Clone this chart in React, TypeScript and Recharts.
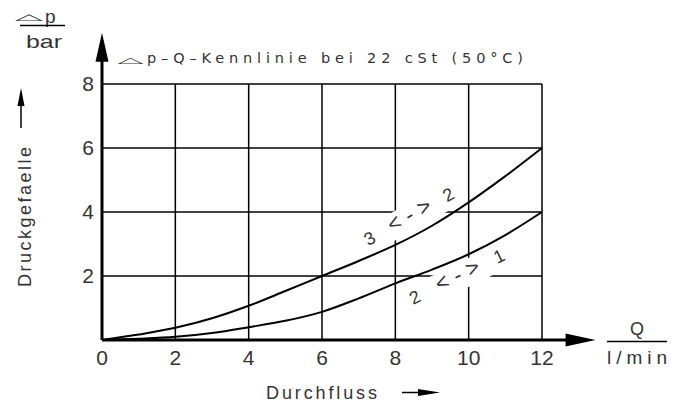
import React from 'react';
import { LineChart, Line, XAxis, YAxis, CartesianGrid, ReferenceLine, ReferenceDot } from 'recharts';

const flow = [0, 1, 2, 3, 4, 5, 6, 7, 8, 9, 10, 11, 12];
const dp32 = [0, 0.17, 0.38, 0.68, 1.07, 1.53, 2.0, 2.47, 2.97, 3.57, 4.3, 5.12, 6.0];
const dp21 = [0, 0.04, 0.1, 0.22, 0.4, 0.6, 0.88, 1.3, 1.77, 2.2, 2.68, 3.28, 4.0];
const xTicks = [0, 2, 4, 6, 8, 10, 12];
const yTicks = [2, 4, 6, 8];
const curveLabels = [
  { x: 8.36, y: 3.88, from: '3', to: '2', angle: -29, len: 102 },
  { x: 9.67, y: 2.0, from: '2', to: '1', angle: -26, len: 106 },
];

const data = flow.map((q, i) => ({ q, a: dp32[i], b: dp21[i] }));

const FONT = '"Liberation Sans", Arial, sans-serif';
const INK = '#333';

const LabelShape = (props: any) => {
  const { cx, cy, from, to, angle, len } = props;
  const h = len / 2 - 6;
  return (
    <g transform={`translate(${cx},${cy}) rotate(${angle})`}>
      <rect x={-len / 2 - 2} y={-11} width={len + 4} height={26} fill="#fff" />
      <text y={7} fontSize={18} fontFamily={FONT} fill={INK} textAnchor="middle">
        <tspan x={-h}>{from}</tspan>
        <tspan x={-16} fontSize={22}>{'<'}</tspan>
        <tspan x={1} fontSize={22}>{'-'}</tspan>
        <tspan x={18} fontSize={22}>{'>'}</tspan>
        <tspan x={h}>{to}</tspan>
      </text>
    </g>
  );
};

const UpArrow = (props: any) => {
  const { cx, cy } = props;
  return <polygon points={`${cx},${cy} ${cx - 6.5},${cy + 29} ${cx + 6.5},${cy + 29}`} fill="#000" />;
};
const RightArrow = (props: any) => {
  const { cx, cy } = props;
  return <polygon points={`${cx},${cy} ${cx - 30},${cy - 6.5} ${cx - 30},${cy + 6.5}`} fill="#000" />;
};

export default function App() {
  return (
    <div style={{ position: 'absolute', left: 0, top: 0, width: 681, height: 405, background: '#fff' }}>
      <LineChart width={681} height={405} data={data} margin={{ top: 84, right: 139, left: 72, bottom: 35 }}>
        <CartesianGrid stroke="#000" strokeWidth={1.5} strokeOpacity={1} />
        <XAxis
          type="number"
          dataKey="q"
          domain={[0, 12]}
          ticks={xTicks}
          axisLine={false}
          tickLine={false}
          height={30}
          tickMargin={4}
          tick={{ fontSize: 21, fill: INK, fontFamily: FONT }}
        />
        <YAxis
          type="number"
          domain={[0, 8]}
          ticks={yTicks}
          axisLine={false}
          tickLine={false}
          width={30}
          tickMargin={2}
          tick={{ fontSize: 21, fill: INK, fontFamily: FONT }}
        />
        {curveLabels.map((l, i) => (
          <ReferenceDot
            key={i}
            x={l.x}
            y={l.y}
            ifOverflow="visible"
            zIndex={100}
            shape={(p: any) => <LabelShape {...p} from={l.from} to={l.to} angle={l.angle} len={l.len} />}
          />
        ))}
        <ReferenceLine segment={[{ x: 0, y: 0 }, { x: 0, y: 9.0 }]} stroke="#000" strokeWidth={3} ifOverflow="visible" />
        <ReferenceLine segment={[{ x: 0, y: 0 }, { x: 12.8, y: 0 }]} stroke="#000" strokeWidth={3} ifOverflow="visible" />
        <ReferenceDot x={0} y={9.6} ifOverflow="visible" shape={(p: any) => <UpArrow {...p} />} />
        <ReferenceDot x={13.46} y={0} ifOverflow="visible" shape={(p: any) => <RightArrow {...p} />} />
        <Line type="monotone" dataKey="a" stroke="#000" strokeWidth={2} dot={false} isAnimationActive={false} />
        <Line type="monotone" dataKey="b" stroke="#000" strokeWidth={2} dot={false} isAnimationActive={false} />
      </LineChart>
      <svg
        width={681}
        height={405}
        style={{ position: 'absolute', left: 0, top: 0, pointerEvents: 'none' }}
        fontFamily={FONT}
        fill={INK}
      >
        <text x={29} y={19.5} fontSize={27} textAnchor="middle" transform="translate(29,19.5) scale(1.35,0.33) translate(-29,-19.5)" fontFamily="DejaVu Sans">
          △
        </text>
        <text x={45} y={23} fontSize={19}>p</text>
        <line x1={20} y1={25.5} x2={65} y2={25.5} stroke="#000" strokeWidth={1.5} />
        <text x={26} y={48} fontSize={19} textLength={36} lengthAdjust="spacingAndGlyphs">bar</text>

        <text x={130.5} y={63.5} fontSize={26} textAnchor="middle" transform="translate(130.5,63.5) scale(1.3,0.32) translate(-130.5,-63.5)" fontFamily="DejaVu Sans">
          △
        </text>
        <text x={147} y={63} fontSize={14.5} fontFamily="DejaVu Sans" textLength={376} lengthAdjust="spacing">
          p–Q–Kennlinie bei 22 cSt (50°C)
        </text>

        <text x={31} y={287} fontSize={18} transform="rotate(-90 31 287)" textLength={140} lengthAdjust="spacing">
          Druckgefaelle
        </text>
        <line x1={21} y1={128} x2={21} y2={100} stroke="#000" strokeWidth={1.5} />
        <polygon points="21,88 17.5,106 24.5,106" fill="#000" />

        <text x={266} y={399} fontSize={18} textLength={111} lengthAdjust="spacing">Durchfluss</text>
        <line x1={402} y1={392.5} x2={420} y2={392.5} stroke="#000" strokeWidth={1.5} />
        <polygon points="440,392.5 418,389 418,396" fill="#000" />

        <text x={637} y={335} fontSize={18} textAnchor="middle">Q</text>
        <line x1={607} y1={341.5} x2={667} y2={341.5} stroke="#000" strokeWidth={1.5} />
        <text x={607} y={364} fontSize={19} textLength={60} lengthAdjust="spacing">l/min</text>
      </svg>
    </div>
  );
}
